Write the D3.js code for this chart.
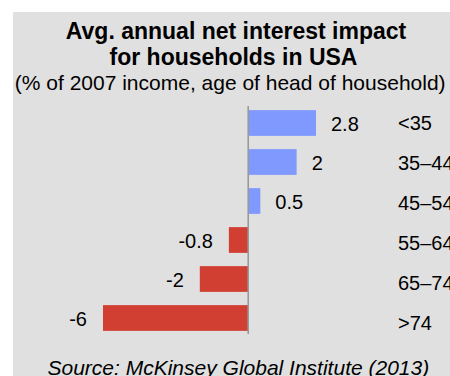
<!DOCTYPE html>
<html><head><meta charset="utf-8">
<script src="https://cdn.jsdelivr.net/npm/d3@7"></script>
<style>html,body{margin:0;padding:0;background:#fff;overflow:hidden}</style>
</head><body>
<script>
const categories = ["<35", "35–44", "45–54", "55–64", "65–74", ">74"];
const values = [2.8, 2, 0.5, -0.8, -2, -6];
const valueLabels = ["2.8", "2", "0.5", "-0.8", "-2", "-6"];
const titleLines = ["Avg. annual net interest impact", "for households in USA"];
const subtitle = "(% of 2007 income, age of head of household)";
const source = "Source: McKinsey Global Institute (2013)";

const W = 450, H = 376;
const font = "'Liberation Sans', Arial, sans-serif";
const svg = d3.select("body").append("svg").attr("width", W).attr("height", H);

svg.append("rect").attr("x", 13).attr("y", 12).attr("width", W - 13).attr("height", H - 12).attr("fill", "#e0e0e0");

const titleX = [236, 233.5];
const titleY = [39, 64.5];
svg.selectAll("text.title").data(titleLines).join("text").attr("class", "title")
  .attr("x", (d, i) => titleX[i]).attr("y", (d, i) => titleY[i])
  .attr("text-anchor", "middle").attr("font-family", font).attr("font-weight", "bold")
  .attr("font-size", 23).attr("fill", "#000").text(d => d);
svg.append("text").attr("x", 230.2).attr("y", 90).attr("text-anchor", "middle")
  .attr("font-family", font).attr("font-size", 21).attr("fill", "#000").text(subtitle);

const x = d3.scaleLinear().domain([d3.min(values), d3.max(values)]).range([103, 316]);
const y = d3.scaleBand().domain(categories).range([103.5, 337.5]).paddingInner(0.34).paddingOuter(0.17);
const yCat = d3.scalePoint().domain(categories).range([130, 330]);

svg.selectAll("rect.bar").data(values).join("rect").attr("class", "bar")
  .attr("x", d => x(Math.min(0, d))).attr("width", d => Math.abs(x(d) - x(0)))
  .attr("y", (d, i) => y(categories[i])).attr("height", y.bandwidth())
  .attr("fill", d => d >= 0 ? "#8099ff" : "#d13f33");

svg.append("line").attr("x1", x(0)).attr("x2", x(0)).attr("y1", 106).attr("y2", 334)
  .attr("stroke", "#999").attr("stroke-width", 1.6);

svg.selectAll("text.val").data(values).join("text").attr("class", "val")
  .attr("x", d => d >= 0 ? x(d) + 15 : x(d) - 16)
  .attr("y", (d, i) => y(categories[i]) + y.bandwidth() / 2 + 8.2)
  .attr("text-anchor", d => d >= 0 ? "start" : "end")
  .attr("font-family", font).attr("font-size", 20).attr("fill", "#000")
  .text((d, i) => valueLabels[i]);

svg.selectAll("text.cat").data(categories).join("text").attr("class", "cat")
  .attr("x", 398).attr("y", d => yCat(d))
  .attr("font-family", font).attr("font-size", 20).attr("fill", "#000").text(d => d);

svg.append("text").attr("x", 47.5).attr("y", 374.5)
  .attr("font-family", font).attr("font-style", "italic").attr("font-size", 21)
  .attr("fill", "#000").text(source);
</script>
</body></html>
